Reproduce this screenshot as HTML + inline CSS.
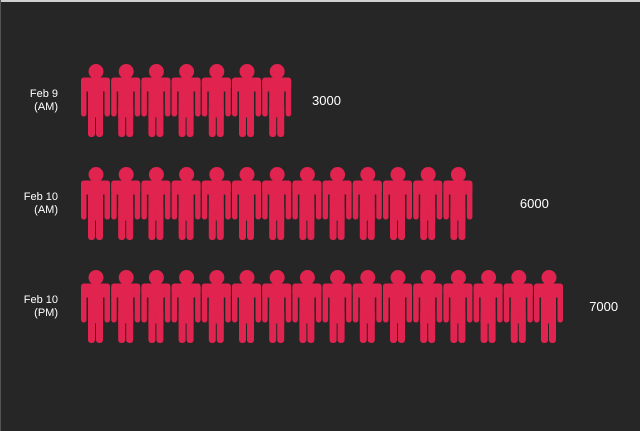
<!DOCTYPE html>
<html><head><meta charset="utf-8"><style>
html,body{margin:0;padding:0;background:#262626;}
svg{display:block;}
text{font-family:"Liberation Sans",sans-serif;fill:#fff;}
</style></head><body>
<svg id="chart" width="640" height="431" viewBox="0 0 640 431" xmlns="http://www.w3.org/2000/svg">
<rect x="0" y="0" width="640" height="431" fill="#262626"/>
<rect x="0" y="0" width="640" height="2" fill="#d0d0d0"/>
<rect x="0" y="0" width="1" height="431" fill="#555"/>
<g id="rows"></g>
</svg>
<script>
const labelsLine1 = ["Feb 9", "Feb 10", "Feb 10"];
const labelsLine2 = ["(AM)", "(AM)", "(PM)"];
const values = [3000, 6000, 7000];
const iconCounts = [7, 13, 16];

const NS = "http://www.w3.org/2000/svg";
const g = document.getElementById("rows");
const rowY = i => 64 + i * 103;
const iconX = k => 81 + k * 30.2;
const valueX = v => 312 + (v - 3000) * 0.0693;
const color = "#e0234f";

function mk(tag, attrs, parent) {
  const el = document.createElementNS(NS, tag);
  for (const k in attrs) el.setAttribute(k, attrs[k]);
  parent.appendChild(el);
  return el;
}

values.forEach((v, i) => {
  const y0 = rowY(i);
  const row = mk("g", {}, g);
  
  

  const lab = mk("text", {x: 58, y: y0 + 33, "font-size": 11, "text-anchor": "end"}, row);
  
  
  const t1 = mk("tspan", {x: 58, dy: 0}, lab); t1.textContent = labelsLine1[i];
  const t2 = mk("tspan", {x: 58, dy: 13}, lab); t2.textContent = labelsLine2[i];

  for (let k = 0; k < iconCounts[i]; k++) {
    const ic = mk("g", {transform: "translate(" + iconX(k) + "," + y0 + ")", fill: color}, row);
    
    
    mk("circle", {cx: 15, cy: 7.5, r: 7.5}, ic);
    mk("rect", {x: 0, y: 13.5, width: 29, height: 14, rx: 4}, ic);
    mk("rect", {x: 0, y: 13.5, width: 5.5, height: 39, rx: 2.7}, ic);
    mk("rect", {x: 23.5, y: 13.5, width: 5.5, height: 39, rx: 2.7}, ic);
    mk("rect", {x: 7, y: 13.5, width: 15, height: 40}, ic);
    mk("rect", {x: 7, y: 40, width: 7, height: 33, rx: 3}, ic);
    mk("rect", {x: 15, y: 40, width: 7, height: 33, rx: 3}, ic);
  }

  const vt = mk("text", {x: valueX(v), y: y0 + 41, "font-size": 13}, row);
  
  
  vt.textContent = v;
});
</script>
</body></html>
